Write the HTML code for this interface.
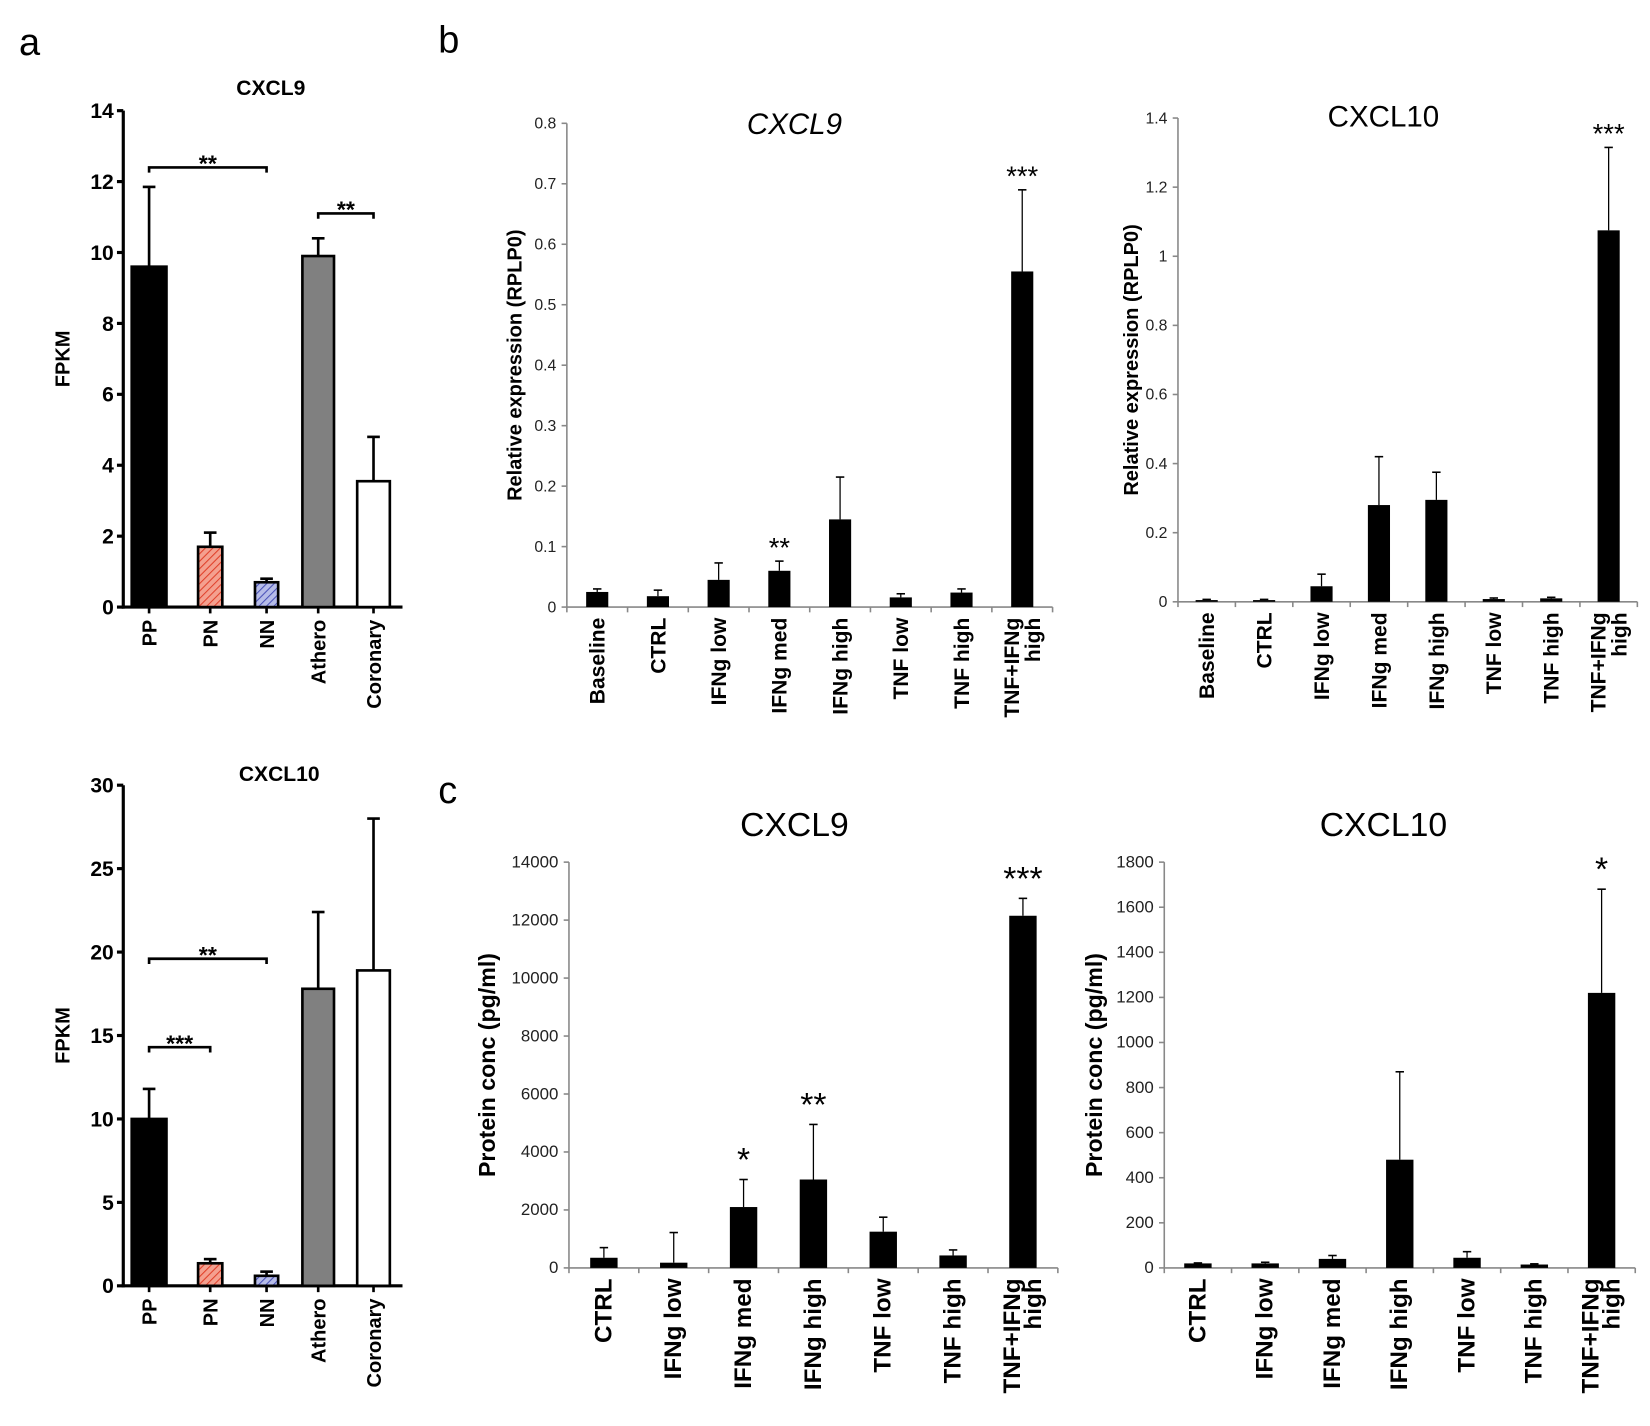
<!DOCTYPE html>
<html><head><meta charset="utf-8"><style>
html,body{margin:0;padding:0;background:#fff;}
svg{display:block;font-family:"Liberation Sans",Arial,sans-serif;}
</style></head><body>
<svg id="fig" width="1650" height="1426" viewBox="0 0 1566 1353" preserveAspectRatio="none" xmlns="http://www.w3.org/2000/svg">
<defs>
<pattern id="hatchRed" patternUnits="userSpaceOnUse" width="5" height="5" patternTransform="rotate(45)"><rect width="5" height="5" fill="#f4a08f"/><line x1="0" y1="0" x2="0" y2="5" stroke="#e0402a" stroke-width="2"/></pattern>
<pattern id="hatchBlue" patternUnits="userSpaceOnUse" width="5" height="5" patternTransform="rotate(45)"><rect width="5" height="5" fill="#b6bce8"/><line x1="0" y1="0" x2="0" y2="5" stroke="#4a52b8" stroke-width="2"/></pattern>
</defs>
<text x="18" y="52" font-size="36">a</text>
<text x="416" y="50" font-size="36">b</text>
<text x="416" y="762" font-size="36">c</text>
</svg>
<script>
// Panel a CXCL9
const aCats = ["PP","PN","NN","Athero","Coronary"];
const a9Vals = [9.6,1.7,0.7,9.9,3.55];
const a9Errs = [11.85,2.1,0.8,10.4,4.8];
const a9Ticks = [0,2,4,6,8,10,12,14];
// Panel a CXCL10
const a10Vals = [10,1.35,0.6,17.8,18.9];
const a10Errs = [11.8,1.6,0.85,22.4,28];
const a10Ticks = [0,5,10,15,20,25,30];
// Panel b
const bCats = ["Baseline","CTRL","IFNg low","IFNg med","IFNg high","TNF low","TNF high","TNF+IFNg|high"];
const b9Vals = [0.025,0.018,0.045,0.06,0.145,0.016,0.024,0.555];
const b9Errs = [0.03,0.028,0.073,0.076,0.215,0.022,0.03,0.69];
const b9Stars = ["","","","**","","","","***"];
const b9Ticks = [0,0.1,0.2,0.3,0.4,0.5,0.6,0.7,0.8];
const b10Vals = [0.005,0.005,0.045,0.28,0.295,0.008,0.01,1.075];
const b10Errs = [0.007,0.007,0.08,0.42,0.375,0.011,0.013,1.315];
const b10Stars = ["","","","","","","","***"];
const b10Ticks = [0,0.2,0.4,0.6,0.8,1,1.2,1.4];
const b10TickLabels = ["0","0.2","0.4","0.6","0.8","1","1.2","1.4"];
// Panel c
const cCats = ["CTRL","IFNg low","IFNg med","IFNg high","TNF low","TNF high","TNF+IFNg|high"];
const c9Vals = [350,180,2100,3050,1250,430,12150];
const c9Errs = [700,1220,3050,4950,1750,620,12750];
const c9Stars = ["","","*","**","","","***"];
const c9Ticks = [0,2000,4000,6000,8000,10000,12000,14000];
const c10Vals = [20,20,40,480,45,15,1220];
const c10Errs = [22,25,55,870,72,18,1680];
const c10Stars = ["","","","","","","*"];
const c10Ticks = [0,200,400,600,800,1000,1200,1400,1600,1800];

const NS="http://www.w3.org/2000/svg";
const svg=document.getElementById('fig');
function mk(tag,attrs,parent){const e=document.createElementNS(NS,tag);for(const k in attrs)e.setAttribute(k,attrs[k]);(parent||svg).appendChild(e);return e;}
function txt(s,attrs,parent){const e=mk('text',attrs,parent);e.textContent=s;return e;}

function drawA(o){
  const g=mk('g',{});
  
  
  const max=o.ticks[o.ticks.length-1];
  const y=v=>o.y0-(v/max)*(o.y0-o.yTop);
  mk('line',{x1:o.ax,y1:o.yTop,x2:o.ax,y2:o.y0+1.5,stroke:'#000','stroke-width':3},g);
  mk('line',{x1:o.ax-1.5,y1:o.y0,x2:o.axEnd,y2:o.y0,stroke:'#000','stroke-width':3},g);
  o.ticks.forEach(t=>{
    mk('line',{x1:o.ax-6,y1:y(t),x2:o.ax,y2:y(t),stroke:'#000','stroke-width':3},g);
    const tl=txt(String(t),{x:o.ax-9,y:y(t)+7,'font-size':20,'font-weight':'bold','text-anchor':'end'},g);
    
    
  });
  const fills=['#000','url(#hatchRed)','url(#hatchBlue)','#808080','#fff'];
  aCats.forEach((c,i)=>{
    const x0=o.barL[i],x1=o.barR[i],cx=(x0+x1)/2;
    mk('line',{x1:cx,y1:y(o.errs[i]),x2:cx,y2:y(o.vals[i]),stroke:'#000','stroke-width':2.5},g);
    mk('line',{x1:cx-6,y1:y(o.errs[i]),x2:cx+6,y2:y(o.errs[i]),stroke:'#000','stroke-width':2.5},g);
    const r=mk('rect',{x:x0,y:y(o.vals[i]),width:x1-x0,height:o.y0-y(o.vals[i]),fill:fills[i],stroke:'#000','stroke-width':2.5},g);
    
    
    mk('line',{x1:cx,y1:o.y0,x2:cx,y2:o.y0+6,stroke:'#000','stroke-width':2.5},g);
    const l=txt(c,{x:0,y:0,'font-size':19,'font-weight':'bold','text-anchor':'end',transform:`translate(${cx+7},${o.y0+12}) rotate(-90)`},g);
    
    
  });
  o.brackets.forEach(b=>{
    const cxa=(o.barL[b[0]]+o.barR[b[0]])/2, cxb=(o.barL[b[1]]+o.barR[b[1]])/2, yy=y(b[2]);
    mk('path',{d:`M${cxa},${yy+5}V${yy}H${cxb}V${yy+5}`,fill:'none',stroke:'#000','stroke-width':2.5},g);
    const s=txt(b[3],{x:(cxa+cxb)/2,y:yy+4,'font-size':22,'font-weight':'bold','text-anchor':'middle'},g);
    
    
  });
  const t=txt(o.title,{x:o.titleX,y:o.titleY,'font-size':20,'font-weight':'bold','text-anchor':'middle'},g);
  
  
  const yl=txt('FPKM',{x:0,y:0,'font-size':19,'font-weight':'bold','text-anchor':'middle',transform:`translate(66,${(o.y0+o.yTop)/2}) rotate(-90)`},g);
  
  
}

function drawB(o){
  const g=mk('g',{});
  
  
  const max=o.ticks[o.ticks.length-1];
  const y=v=>o.y0-(v/max)*(o.y0-o.yTop);
  const n=o.cats.length, w=(o.axEnd-o.ax)/n;
  mk('line',{x1:o.ax,y1:o.yTop,x2:o.ax,y2:o.y0,stroke:'#888','stroke-width':1.5},g);
  mk('line',{x1:o.ax,y1:o.y0,x2:o.axEnd,y2:o.y0,stroke:'#888','stroke-width':1.5},g);
  o.ticks.forEach((t,i)=>{
    mk('line',{x1:o.ax-5,y1:y(t),x2:o.ax,y2:y(t),stroke:'#888','stroke-width':1.5},g);
    const tl=txt(o.tickLabels?o.tickLabels[i]:String(t),{x:o.ax-10,y:y(t)+5,'font-size':o.tkfs,'text-anchor':'end',fill:'#222'},g);
    
    
  });
  for(let i=0;i<=n;i++) mk('line',{x1:o.ax+i*w,y1:o.y0,x2:o.ax+i*w,y2:o.y0+5,stroke:'#888','stroke-width':1.5},g);
  o.cats.forEach((c,i)=>{
    const cx=o.ax+(i+0.5)*w, bw=o.bw;
    mk('line',{x1:cx,y1:y(o.errs[i]),x2:cx,y2:y(o.vals[i]),stroke:'#000','stroke-width':1.2},g);
    mk('line',{x1:cx-4,y1:y(o.errs[i]),x2:cx+4,y2:y(o.errs[i]),stroke:'#000','stroke-width':1.5},g);
    const r=mk('rect',{x:cx-bw/2,y:y(o.vals[i]),width:bw,height:o.y0-y(o.vals[i]),fill:'#000'},g);
    
    
    const parts=c.split('|');
    parts.forEach((p,k)=>{
      const l=txt(p,{x:0,y:0,'font-size':o.lfs,'font-weight':'bold','text-anchor':'end',transform:`translate(${cx+7+k*20-(parts.length-1)*10},${o.y0+10}) rotate(-90)`},g);
      
      
    });
    if(o.stars[i]){
      const s=txt(o.stars[i],{x:cx,y:y(o.errs[i])-o.starGap,'font-size':o.sfs,'text-anchor':'middle'},g);
      
      
    }
  });
  const t=txt(o.title,{x:o.titleX,y:o.titleY,'font-size':o.tfs,'text-anchor':'middle','font-style':o.italic?'italic':'normal'},g);
  
  
  const yl=txt(o.ylabel,{x:0,y:0,'font-size':o.yfs,'font-weight':'bold','text-anchor':'middle',transform:`translate(${o.ylx},${(o.y0+o.yTop)/2}) rotate(-90)`},g);
  
  
}

drawA({name:'chart-a-cxcl9',vals:a9Vals,errs:a9Errs,ticks:a9Ticks,ax:117,axEnd:382,y0:576,yTop:105,
  barL:[125,188,242,287,339],barR:[158,211,264,317,370],
  brackets:[[0,2,12.4,'**'],[3,4,11.1,'**']],title:'CXCL9',titleX:257,titleY:90});
drawA({name:'chart-a-cxcl10',vals:a10Vals,errs:a10Errs,ticks:a10Ticks,ax:117,axEnd:382,y0:1220,yTop:745,
  barL:[125,188,242,287,339],barR:[158,211,264,317,370],
  brackets:[[0,2,19.6,'**'],[0,1,14.3,'***']],title:'CXCL10',titleX:265,titleY:741});

drawB({name:'chart-b-cxcl9',cats:bCats,vals:b9Vals,errs:b9Errs,stars:b9Stars,ticks:b9Ticks,tickLabels:null,tkfs:15,
  ax:538,axEnd:999,y0:576,yTop:117,bw:21,lfs:20,sfs:26,starGap:4,title:'CXCL9',italic:true,titleX:754,titleY:127,tfs:28,
  ylabel:'Relative expression (RPLP0)',ylx:495,yfs:19});
drawB({name:'chart-b-cxcl10',cats:bCats,vals:b10Vals,errs:b10Errs,stars:b10Stars,ticks:b10Ticks,tickLabels:b10TickLabels,tkfs:15,
  ax:1118,axEnd:1554,y0:571,yTop:112,bw:21,lfs:20,sfs:26,starGap:4,title:'CXCL10',italic:false,titleX:1313,titleY:120,tfs:28,
  ylabel:'Relative expression (RPLP0)',ylx:1080,yfs:19});
drawB({name:'chart-c-cxcl9',cats:cCats,vals:c9Vals,errs:c9Errs,stars:c9Stars,ticks:c9Ticks,tickLabels:null,tkfs:16,
  ax:540,axEnd:1004,y0:1203,yTop:818,bw:26,lfs:23,sfs:32,starGap:8,title:'CXCL9',italic:false,titleX:754,titleY:793,tfs:32,
  ylabel:'Protein conc (pg/ml)',ylx:470,yfs:22});
drawB({name:'chart-c-cxcl10',cats:cCats,vals:c10Vals,errs:c10Errs,stars:c10Stars,ticks:c10Ticks,tickLabels:null,tkfs:16,
  ax:1105,axEnd:1552,y0:1203,yTop:818,bw:26,lfs:23,sfs:32,starGap:8,title:'CXCL10',italic:false,titleX:1313,titleY:793,tfs:32,
  ylabel:'Protein conc (pg/ml)',ylx:1046,yfs:22});
</script>
</body></html>
